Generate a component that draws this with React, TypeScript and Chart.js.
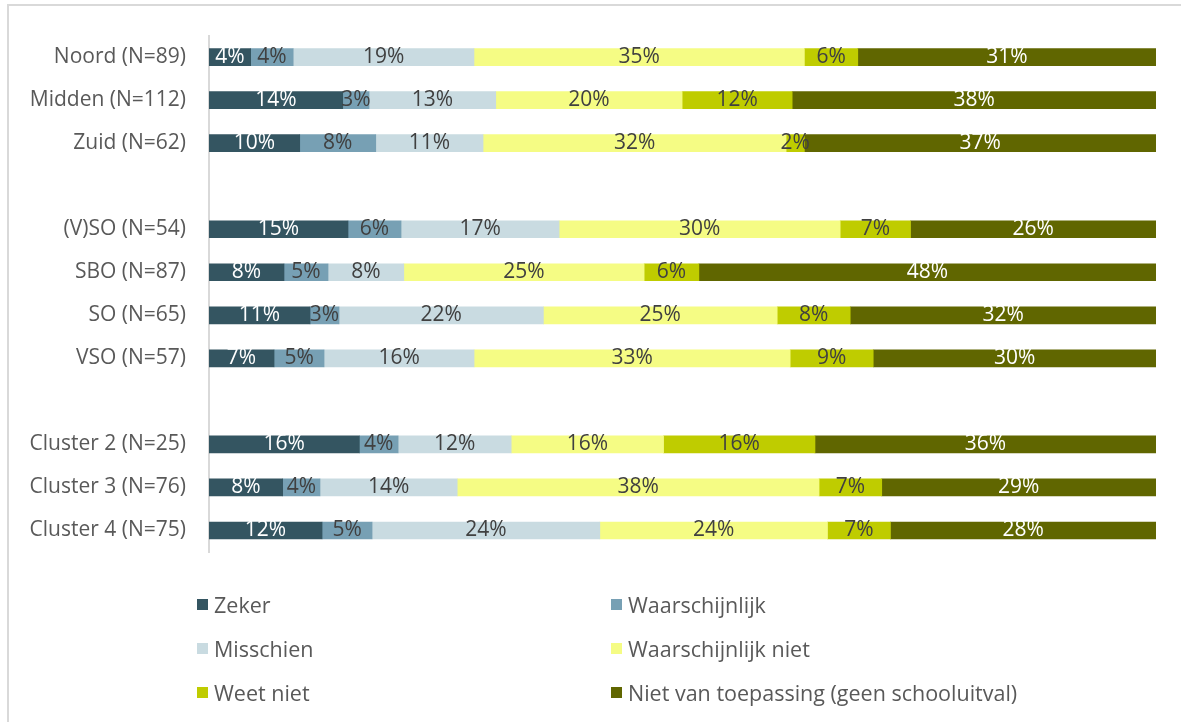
import React, { useEffect, useRef } from "react";
import { Chart, registerables } from "chart.js";

Chart.register(...registerables);

const categories = [
  "Noord (N=89)",
  "Midden (N=112)",
  "Zuid (N=62)",
  "",
  "(V)SO (N=54)",
  "SBO (N=87)",
  "SO (N=65)",
  "VSO (N=57)",
  "",
  "Cluster 2 (N=25)",
  "Cluster 3 (N=76)",
  "Cluster 4 (N=75)",
];

const seriesNames = [
  "Zeker",
  "Waarschijnlijk",
  "Misschien",
  "Waarschijnlijk niet",
  "Weet niet",
  "Niet van toepassing (geen schooluitval)",
];

const zeker = [4.4, 14.12, 9.58, null, 14.68, 7.92, 10.67, 6.87, null, 15.88, 7.78, 11.94];
const waarschijnlijk = [4.49, 2.78, 8.03, null, 5.6, 4.65, 3.06, 5.28, null, 4.09, 3.94, 5.28];
const misschien = [19.09, 13.38, 11.33, null, 16.69, 8.0, 21.58, 15.84, null, 11.94, 14.49, 24.05];
const waarschijnlijkNiet = [34.89, 19.68, 32.0, null, 29.68, 25.38, 24.69, 33.38, null, 16.09, 38.21, 24.04];
const weetNiet = [5.64, 11.62, 1.93, null, 7.43, 5.78, 7.71, 8.77, null, 15.99, 6.62, 6.65];
const nietVanToepassing = [31.49, 38.42, 37.12, null, 25.92, 48.27, 32.29, 29.86, null, 36.02, 28.94, 28.03];

const seriesValues = [zeker, waarschijnlijk, misschien, waarschijnlijkNiet, weetNiet, nietVanToepassing];
const seriesColors = ["#345561", "#77a0b4", "#c9dbe1", "#f5fc84", "#bfcc00", "#606600"];
const labelColors = ["#ffffff", "#404040", "#404040", "#404040", "#404040", "#ffffff"];

const FONT = "'Open Sans', 'Noto Sans', sans-serif";

const dataLabelPlugin = {
  id: "dataLabels",
  afterDatasetsDraw(chart: any) {
    const ctx = chart.ctx;
    ctx.save();
    ctx.font = `21px ${FONT}`;
    ctx.textAlign = "center";
    ctx.textBaseline = "middle";
    chart.data.datasets.forEach((ds: any, di: number) => {
      const meta = chart.getDatasetMeta(di);
      meta.data.forEach((el: any, i: number) => {
        const v = ds.data[i];
        if (v === null || v === undefined) return;
        const cx = (el.x + el.base) / 2;
        ctx.fillStyle = labelColors[di];
        ctx.fillText(Math.round(v) + "%", cx, el.y);
      });
    });
    ctx.restore();
  },
};

export default function App() {
  const canvasRef = useRef<HTMLCanvasElement>(null);

  useEffect(() => {
    if (!canvasRef.current) return;
    const chart = new Chart(canvasRef.current, {
      type: "bar",
      data: {
        labels: categories,
        datasets: seriesNames.map((name, i) => ({
          label: name,
          data: seriesValues[i],
          backgroundColor: seriesColors[i],
          borderWidth: 0,
          barThickness: 17,
        })),
      },
      options: {
        indexAxis: "y",
        responsive: false,
        animation: false,
        layout: { padding: { left: 0, right: 25, top: 33, bottom: 170 } },
        plugins: {
          legend: { display: false },
          tooltip: { enabled: false },
        },
        scales: {
          x: {
            display: false,
            stacked: true,
            min: 0,
            max: 100,
          },
          y: {
            stacked: true,
            grid: { display: false, drawTicks: false },
            border: { display: true, color: "#d9d9d9", width: 2 },
            ticks: {
              autoSkip: false,
              padding: 23,
              color: "#595959",
              font: { family: FONT, size: 21 },
            },
            afterFit(scale: any) {
              scale.width = 209;
            },
          },
        },
      },
      plugins: [dataLabelPlugin],
    } as any);
    return () => chart.destroy();
  }, []);

  const legendPos = [
    { left: 197, top: 604 },
    { left: 611, top: 604 },
    { left: 197, top: 648 },
    { left: 611, top: 648 },
    { left: 197, top: 692 },
    { left: 611, top: 692 },
  ];

  return (
    <div
      style={{
        position: "absolute",
        left: 0,
        top: 0,
        width: 1181,
        height: 722,
        overflow: "hidden",
        background: "#ffffff",
      }}
    >
      <div
        style={{
          position: "absolute",
          left: 7,
          top: 4,
          width: 1300,
          height: 900,
          borderTop: "2px solid #d9d9d9",
          borderLeft: "2px solid #d9d9d9",
        }}
      />
      <canvas
        ref={canvasRef}
        width={1181}
        height={722}
        style={{ position: "absolute", left: 0, top: 0 }}
      />
      {seriesNames.map((name, i) => (
        <div
          key={name}
          style={{
            position: "absolute",
            left: legendPos[i].left,
            top: legendPos[i].top - 15,
            height: 30,
            display: "flex",
            alignItems: "center",
            whiteSpace: "nowrap",
            fontFamily: FONT,
            fontSize: 21.5,
            color: "#595959",
          }}
        >
          <span
            style={{
              display: "inline-block",
              width: 11,
              height: 11,
              background: seriesColors[i],
              marginRight: 6,
            }}
          />
          <span>{name}</span>
        </div>
      ))}
    </div>
  );
}
